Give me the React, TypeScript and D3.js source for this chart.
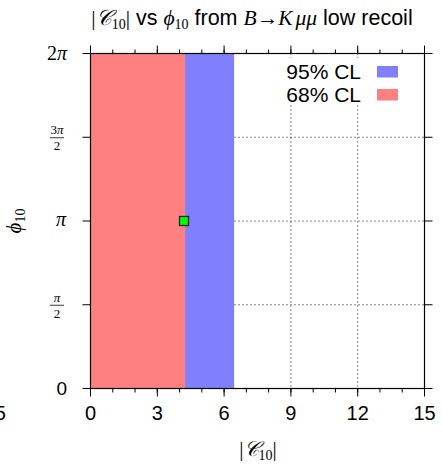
import * as d3 from 'd3'

const PI = Math.PI

// confidence regions in |C10| (they span the full phase range)
const regionNames = ['95% CL', '68% CL']
const regionColors = ['#8080ff', '#ff8080']
const regionC10Min = [0, 0]
const regionC10Max = [6.45, 4.25]
const regionPhiMin = [0, 0]
const regionPhiMax = [2 * PI, 2 * PI]

const bestFitC10 = [4.2]
const bestFitPhi = [PI]

const xTicks = [0, 3, 6, 9, 12, 15]
const xMinorTicks = d3.range(0, 15.01, 1)
const yTicks = [0, PI / 2, PI, (3 * PI) / 2, 2 * PI]

const W = 442
const H = 464
const m = { left: 90.5, right: 424.5, top: 53.5, bottom: 388.5 }

const serif = '"Liberation Serif", "DejaVu Serif", serif'
const sans = '"Liberation Sans", Arial, sans-serif'

function YLabel({ v, y }: { v: number; y: number }) {
  const k = Math.round(v / (PI / 2))
  if (k === 0)
    return (
      <text x={67} y={y + 6.5} textAnchor="end" fontFamily={sans} fontSize={19}>
        0
      </text>
    )
  if (k === 2)
    return (
      <text x={66} y={y + 5} textAnchor="end" fontFamily={serif} fontStyle="italic" fontSize={20}>
        π
      </text>
    )
  if (k === 4)
    return (
      <text x={67} y={y + 6} textAnchor="end" fontFamily={serif} fontSize={20}>
        2<tspan fontStyle="italic">π</tspan>
      </text>
    )
  return (
    <g fontFamily={serif} fontSize={13} textAnchor="middle">
      <text x={57} y={y - 3}>
        {k === 3 ? <>3<tspan fontStyle="italic">π</tspan></> : <tspan fontStyle="italic">π</tspan>}
      </text>
      <line x1={50} x2={64} y1={y + 0.5} y2={y + 0.5} stroke="#000" strokeWidth={0.8} />
      <text x={57} y={y + 13}>2</text>
    </g>
  )
}

export default function App() {
  const x = d3.scaleLinear().domain([0, 15]).range([m.left, m.right])
  const y = d3.scaleLinear().domain([0, 2 * PI]).range([m.bottom, m.top])

  return (
    <svg width={W} height={H} style={{ position: 'absolute', left: 0, top: 0 }}>
      <rect width={W} height={H} fill="#fff" />

      {/* grid */}
      <g stroke="#111" strokeWidth={1} strokeDasharray="1,3">
        {xTicks.slice(1, -1).map((t) => (
          <line key={'gx' + t} x1={x(t)} x2={x(t)} y1={m.top} y2={m.bottom} />
        ))}
        {yTicks.slice(1, -1).map((t) => (
          <line key={'gy' + t} x1={m.left} x2={m.right} y1={y(t)} y2={y(t)} />
        ))}
      </g>

      {/* regions */}
      {regionNames.map((name, i) => (
        <rect
          key={name}
          x={x(regionC10Min[i])}
          y={y(regionPhiMax[i])}
          width={x(regionC10Max[i]) - x(regionC10Min[i])}
          height={y(regionPhiMin[i]) - y(regionPhiMax[i])}
          fill={regionColors[i]}
        />
      ))}

      {/* best fit */}
      {bestFitC10.map((c, i) => (
        <rect
          key={'bf' + i}
          x={x(c) - 4.5}
          y={y(bestFitPhi[i]) - 4.5}
          width={9}
          height={9}
          fill="#00ff00"
          stroke="#222"
          strokeWidth={1.3}
        />
      ))}

      {/* key */}
      <rect x={276} y={58} width={130} height={47} fill="#fff" />
      {regionNames.map((name, i) => (
        <g key={'k' + name}>
          <text x={361} y={78.5 + i * 23} textAnchor="end" fontFamily={sans} fontSize={21}>
            {name}
          </text>
          <rect x={377} y={66 + i * 23} width={21} height={11.5} fill={regionColors[i]} />
        </g>
      ))}

      {/* frame */}
      <rect
        x={m.left}
        y={m.top}
        width={m.right - m.left}
        height={m.bottom - m.top}
        fill="none"
        stroke="#000"
        strokeWidth={1.2}
      />

      {/* x ticks bottom and top */}
      <g stroke="#000" strokeWidth={1}>
        {xMinorTicks.map((t) => (
          <g key={'mx' + t}>
            <line x1={x(t)} x2={x(t)} y1={m.bottom} y2={m.bottom + 4} />
            <line x1={x(t)} x2={x(t)} y1={m.top} y2={m.top - 4} />
          </g>
        ))}
        {xTicks.map((t) => (
          <g key={'tx' + t}>
            <line x1={x(t)} x2={x(t)} y1={m.bottom} y2={m.bottom + 8} />
            <line x1={x(t)} x2={x(t)} y1={m.top} y2={m.top - 8} />
          </g>
        ))}
        {yTicks.map((t) => (
          <g key={'ty' + t}>
            <line x1={m.left} x2={m.left - 8} y1={y(t)} y2={y(t)} />
            <line x1={m.right} x2={m.right + 8} y1={y(t)} y2={y(t)} />
          </g>
        ))}
      </g>

      {/* x tick labels */}
      {xTicks.map((t) => (
        <text key={'lx' + t} x={x(t)} y={420} textAnchor="middle" fontFamily={sans} fontSize={20}>
          {t}
        </text>
      ))}
      <text x={6} y={420} textAnchor="end" fontFamily={sans} fontSize={20}>
        15
      </text>

      {/* y tick labels */}
      {yTicks.map((t) => (
        <YLabel key={'ly' + t} v={t} y={y(t)} />
      ))}

      {/* axis titles */}
      <text x={258} y={456} textAnchor="middle" fontFamily={serif} fontSize={21}>
        |<tspan fontStyle="italic">𝒞</tspan>
        <tspan fontSize={14} dy={4}>10</tspan>
        <tspan dy={-4}>|</tspan>
      </text>
      <text
        transform={`translate(21,${y(PI)}) rotate(-90)`}
        textAnchor="middle"
        fontFamily={serif}
        fontSize={21}
      >
        <tspan fontStyle="italic">ϕ</tspan>
        <tspan fontSize={14} dy={4}>10</tspan>
      </text>

      {/* title */}
      <text x={252} y={25} textAnchor="middle" fontFamily={sans} fontSize={21.5}>
        <tspan fontFamily={serif}>|</tspan>
        <tspan fontFamily={serif} fontStyle="italic">𝒞</tspan>
        <tspan fontFamily={serif} fontSize={14} dy={4}>10</tspan>
        <tspan fontFamily={serif} dy={-4}>|</tspan>
        <tspan> vs </tspan>
        <tspan fontFamily={serif} fontStyle="italic">ϕ</tspan>
        <tspan fontFamily={serif} fontSize={14} dy={4}>10</tspan>
        <tspan dy={-4}> from </tspan>
        <tspan fontFamily={serif} fontStyle="italic">B</tspan>
        <tspan fontFamily={serif}>→</tspan>
        <tspan fontFamily={serif} fontStyle="italic">K</tspan>
        <tspan fontFamily={serif} fontStyle="italic" dx={3}>μμ</tspan>
        <tspan> low recoil</tspan>
      </text>
    </svg>
  )
}
